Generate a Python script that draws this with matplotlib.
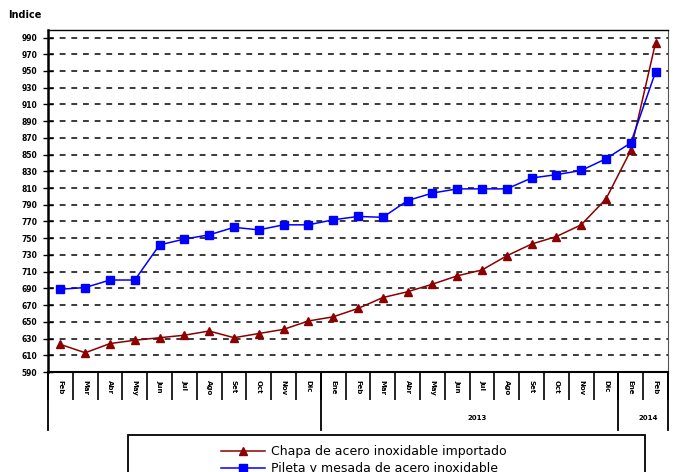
import matplotlib
matplotlib.use("Agg")
import matplotlib.pyplot as plt
import matplotlib.transforms as mtransforms
from matplotlib.patches import Rectangle

months = ["Feb", "Mar", "Abr", "May", "Jun", "Jul", "Ago", "Set", "Oct", "Nov", "Dic",
          "Ene", "Feb", "Mar", "Abr", "May", "Jun", "Jul", "Ago", "Set", "Oct", "Nov", "Dic",
          "Ene", "Feb"]
chapa = [623, 613, 624, 628, 631, 634, 639, 631, 636, 641, 651, 656, 666, 679, 686,
         695, 705, 712, 729, 743, 752, 766, 797, 855, 984]
pileta = [689, 691, 700, 700, 742, 749, 754, 763, 760, 766, 766, 772, 776, 775, 795,
          804, 809, 809, 809, 822, 826, 831, 845, 864, 949]
years = ["2013", "2014"]
year_pos = [16.8, 23.7]
year_bounds = [-0.5, 10.5, 22.5, 24.5]
yticks = list(range(590, 1000, 20))

fig = plt.figure(figsize=(6.83, 4.72), dpi=100)
ax = fig.add_axes([48 / 683, 100 / 472, 620 / 683, 342 / 472])

x = list(range(len(months)))
ax.plot(x, chapa, color="#8b0000", marker="^", markersize=6, lw=1.1,
        label="Chapa de acero inoxidable importado", zorder=3)
ax.plot(x, pileta, color="#0000ff", marker="s", markersize=5.5, lw=1.1,
        label="Pileta y mesada de acero inoxidable", zorder=3)

ax.set_xlim(-0.5, len(months) - 0.5)
ax.set_ylim(590, 999)
ax.set_yticks(yticks)
ax.set_yticklabels([str(v) for v in yticks], fontsize=5.5, fontweight="bold")
ax.tick_params(axis="y", direction="inout", length=7, width=1, pad=4)
for v in yticks[1:]:
    ax.axhline(v, color="#3a3a3a", lw=1.4, ls=(0, (3, 3)), zorder=1)

# month labels at centers, separators at boundaries
ax.set_xticks(x)
ax.set_xticklabels(months, rotation=-90, fontsize=5, fontweight="bold")
ax.tick_params(axis="x", which="major", length=0, pad=6)
ax.set_xticks([i - 0.5 for i in range(len(months) + 1)], minor=True)
ax.tick_params(axis="x", which="minor", length=20, width=1.2, direction="out")

trans = mtransforms.blended_transform_factory(ax.transData, ax.transAxes)
for b in year_bounds:
    ax.plot([b, b], [0, -0.17], color="black", lw=1.3, transform=trans, clip_on=False)
for label, pos in zip(years, year_pos):
    ax.text(pos, -0.135, label, transform=trans, ha="center", va="center",
            fontsize=5, fontweight="bold")

ax.spines["left"].set_linewidth(1.8)
ax.spines["bottom"].set_linewidth(1.5)
ax.spines["top"].set_linewidth(1)
ax.spines["right"].set_color("#555555")

fig.text(8 / 683, 1 - 15 / 472, "Indice", fontsize=7, fontweight="bold", va="center")

fig.patches.append(Rectangle((128 / 683, -0.1), 517 / 683, 0.1 + 37 / 472,
                             transform=fig.transFigure, fill=False, ec="black", lw=1.3))
fig.legend(loc="upper left", bbox_to_anchor=(215 / 683, 1 - 439 / 472), frameon=False,
           fontsize=9, handlelength=3.5, labelspacing=0.3, borderpad=0, handletextpad=0.5)

fig.savefig("out.png", dpi=100)
